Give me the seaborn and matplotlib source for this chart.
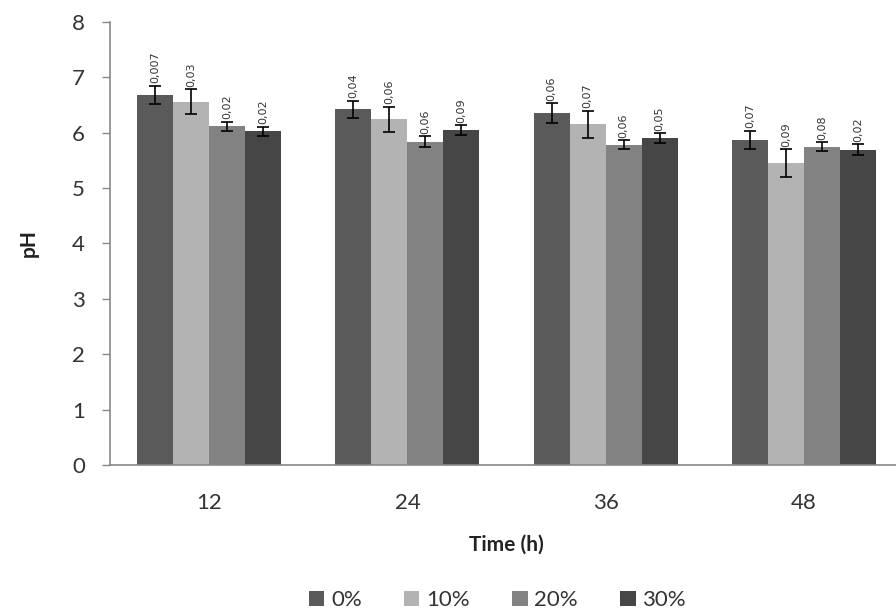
import numpy as np
import pandas as pd
import matplotlib
matplotlib.use("Agg")
import matplotlib.pyplot as plt
import seaborn as sns

# Sampling times and treatment levels
times = ["12", "24", "36", "48"]
levels = ["0%", "10%", "20%", "30%"]

# Mean pH per level, one value per time
ph_0 = [6.68, 6.42, 6.36, 5.87]
ph_10 = [6.56, 6.24, 6.15, 5.45]
ph_20 = [6.12, 5.84, 5.78, 5.75]
ph_30 = [6.03, 6.05, 5.91, 5.69]

# Error-bar half lengths
err_0 = [0.17, 0.16, 0.18, 0.17]
err_10 = [0.23, 0.23, 0.25, 0.25]
err_20 = [0.08, 0.10, 0.08, 0.08]
err_30 = [0.08, 0.09, 0.09, 0.10]

# Deviation labels written above the bars
lab_0 = ["0,007", "0,04", "0,06", "0,07"]
lab_10 = ["0,03", "0,06", "0,07", "0,09"]
lab_20 = ["0,02", "0,06", "0,06", "0,08"]
lab_30 = ["0,02", "0,09", "0,05", "0,02"]

colors = ["#5a5a5a", "#b3b3b3", "#828282", "#464646"]

means = [ph_0, ph_10, ph_20, ph_30]
errs = [err_0, err_10, err_20, err_30]
labels = [lab_0, lab_10, lab_20, lab_30]

df = pd.DataFrame({
    "Time": np.repeat([times], len(levels), axis=0).ravel(),
    "Level": np.repeat(levels, len(times)),
    "pH": np.concatenate(means),
})

sns.set_theme(style="white")
plt.rcParams["font.family"] = ["Lato", "DejaVu Sans"]

fig = plt.figure(figsize=(8.96, 6.09), dpi=100)
ax = fig.add_axes([0.1228, 0.2365, 0.885, 0.7274])

sns.barplot(data=df, x="Time", y="pH", hue="Level", order=times,
            hue_order=levels, palette=colors, width=0.726, errorbar=None,
            saturation=1, linewidth=0, ax=ax, legend=True)

for cont, err, labs in zip(ax.containers, errs, labels):
    xs = [p.get_x() + p.get_width() / 2 for p in cont.patches]
    hs = [p.get_height() for p in cont.patches]
    ax.errorbar(xs, hs, yerr=err, fmt="none", ecolor="black",
                elinewidth=1.2, capsize=4.3, capthick=1.2, zorder=3)
    for x, h, e, t in zip(xs, hs, err, labs):
        ax.text(x, h + e + 0.04, t, rotation=90, ha="center", va="bottom",
                fontsize=8, color="#333333", family="DejaVu Sans")

ax.set_ylim(0, 8)
ax.set_yticks(range(0, 9))
ax.set_xlim(-0.5, 3.5)
ax.tick_params(axis="y", which="both", left=True, length=6, width=1,
               color="#888888", labelsize=16, labelcolor="#333333", pad=12)
ax.tick_params(axis="x", bottom=False, labelsize=16, labelcolor="#333333", pad=14)
for s in ["top", "right"]:
    ax.spines[s].set_visible(False)
for s in ["left", "bottom"]:
    ax.spines[s].set_color("#888888")
    ax.spines[s].set_linewidth(1.2)

ax.set_ylabel("pH", fontsize=15, fontweight="bold", color="#222222", labelpad=24)
ax.set_xlabel("Time (h)", fontsize=15, fontweight="bold", color="#222222", labelpad=16)

handles, texts = ax.get_legend_handles_labels()
ax.legend_.remove()
fig.legend(handles, texts, loc="lower center", bbox_to_anchor=(0.555, -0.035),
           ncol=4, frameon=False, fontsize=16, handlelength=0.7, handleheight=0.7,
           handletextpad=0.3, columnspacing=1.9, labelcolor="#333333")

fig.savefig("out.png", dpi=100)
